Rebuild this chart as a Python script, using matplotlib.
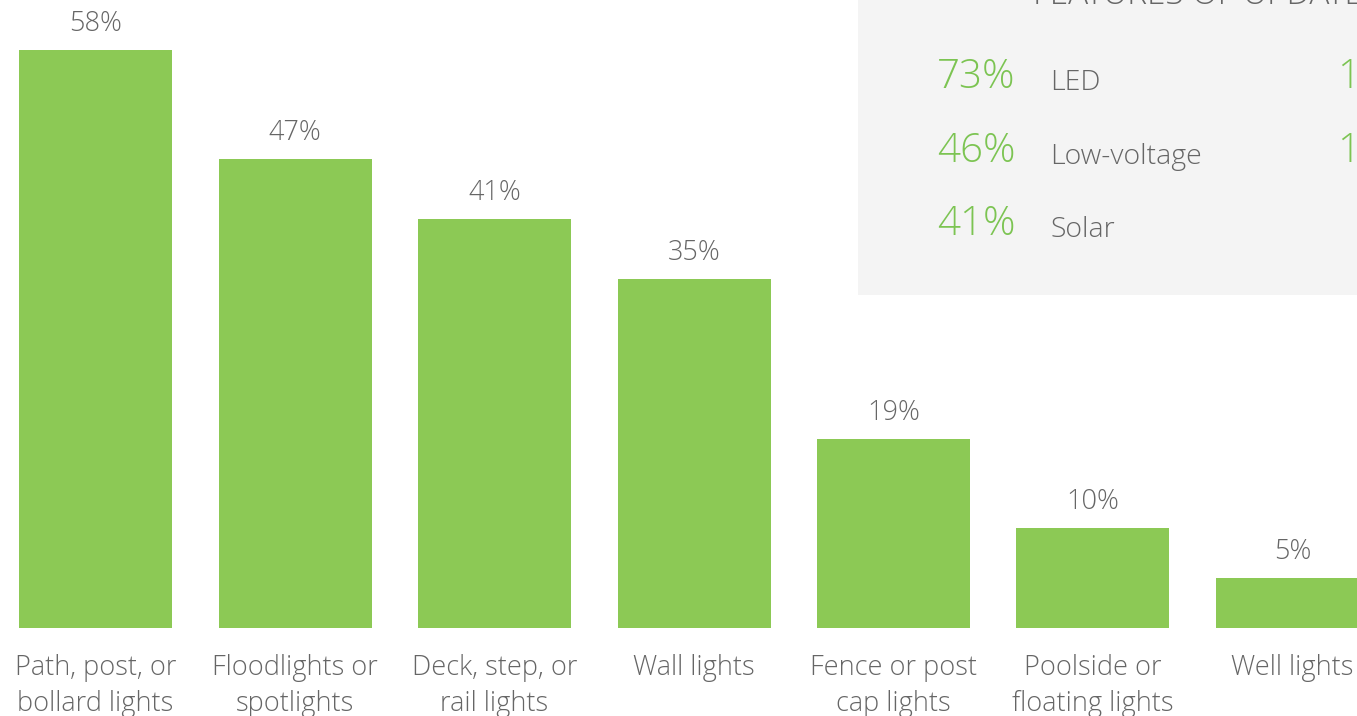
import matplotlib
matplotlib.use("Agg")
import matplotlib.pyplot as plt
from matplotlib.patches import Rectangle

# survey shares for outdoor lighting types
categories = [
    ("Path, post, or", "bollard lights"),
    ("Floodlights or", "spotlights"),
    ("Deck, step, or", "rail lights"),
    ("Wall lights",),
    ("Fence or post", "cap lights"),
    ("Poolside or", "floating lights"),
    ("Well lights",),
]
shares = [58, 47, 41, 35, 19, 10, 5]

# side panel: features of updated lighting
feature_names = ["LED", "Low-voltage", "Solar"]
feature_shares = [73, 46, 41]
panel_title = "FEATURES OF UPDATED LIGHTING"
second_col = ["1", "1"]

BAR = "#8cc955"
GREEN = "#7cc452"
GREY = "#666666"
PANEL = "#f4f4f4"

W, H = 1357, 716
plt.rcParams["font.family"] = ["Open Sans", "DejaVu Sans"]
WEIGHT = "light"

fig = plt.figure(figsize=(W / 100, H / 100), dpi=100)
fig.patch.set_facecolor("white")

base_px = 628
px_per_pct = 9.97
step = 199.5
first_center = 95.5

ax = fig.add_axes([0, (H - base_px) / H, 1, base_px / H])
ax.set_xlim(-first_center / step, (W - first_center) / step)
ax.set_ylim(0, base_px / px_per_pct)
ax.axis("off")

xs = list(range(len(shares)))
ax.bar(xs, shares, width=153 / step, color=BAR, align="center")
for x, v in zip(xs, shares):
    ax.annotate(f"{v}%", (x, v), xytext=(0, 19), textcoords="offset pixels",
                ha="center", va="baseline", fontsize=19.5, color=GREY,
                fontweight=WEIGHT)

# category labels below the baseline, one text per line
for x, lines in zip(xs, categories):
    for k, line in enumerate(lines):
        ax.annotate(line, (x, 0), xytext=(0, -(47 + 36 * k)),
                    textcoords="offset pixels", ha="center", va="baseline",
                    fontsize=19.5, color=GREY, fontweight=WEIGHT,
                    annotation_clip=False)

# grey feature panel in the upper right
def fy(px_from_top):
    return (H - px_from_top) / H

fig.patches.append(Rectangle((858 / W, fy(295)), (W - 858) / W, 295 / H,
                             transform=fig.transFigure, facecolor=PANEL,
                             edgecolor="none", zorder=0))

fig.text(1033 / W, fy(4), panel_title, fontsize=24, color=GREY,
         fontweight=WEIGHT, va="baseline", ha="left")

row_base = [88, 162, 235]
for yb, name, pct in zip(row_base, feature_names, feature_shares):
    fig.text(937 / W, fy(yb), f"{pct}%", fontsize=29, color=GREEN,
             fontweight=WEIGHT, va="baseline", ha="left")
    fig.text(1050 / W, fy(yb + 2), name, fontsize=20.5, color=GREY,
             fontweight=WEIGHT, va="baseline", ha="left")
for yb, s in zip(row_base, second_col):
    fig.text(1337 / W, fy(yb), s, fontsize=29, color=GREEN,
             fontweight=WEIGHT, va="baseline", ha="left")

fig.savefig("out.png", dpi=100, facecolor="white")
